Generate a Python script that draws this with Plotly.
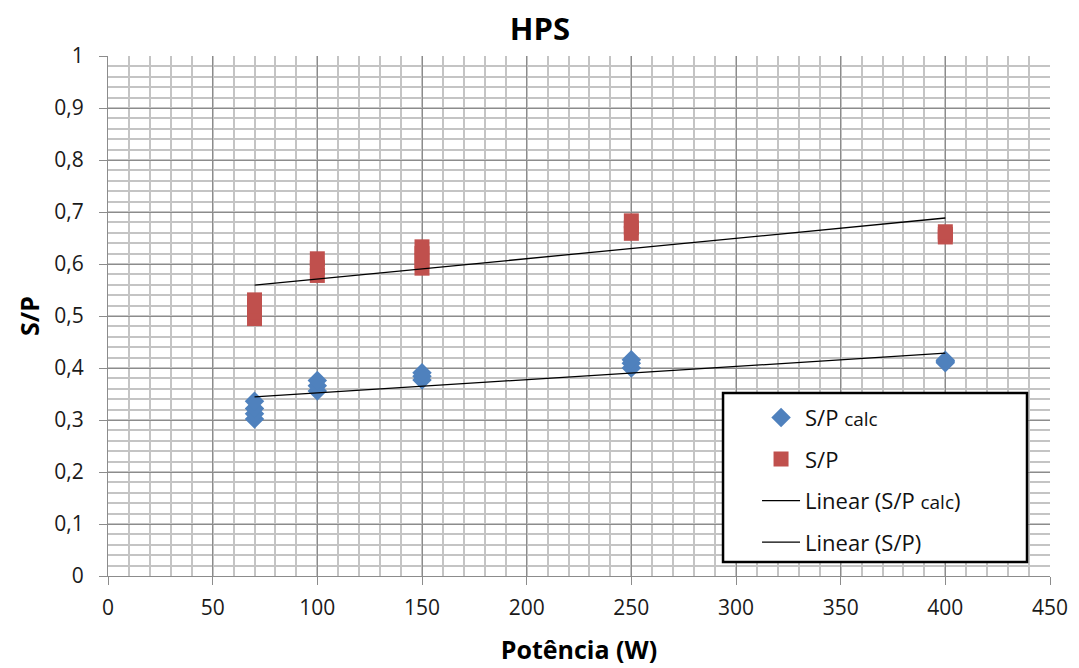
import numpy as np
import plotly.graph_objects as go

title = "HPS"
x_title = "Potência (W)"
y_title = "S/P"

# S/P calc (blue diamonds)
calc_x = [70, 70, 70, 70, 100, 100, 100, 150, 150, 150, 250, 250, 250, 400, 400, 400]
calc_y = [0.302, 0.312, 0.322, 0.336, 0.356, 0.366, 0.376, 0.377, 0.384, 0.391, 0.400, 0.409, 0.416, 0.410, 0.413, 0.415]

# S/P (red squares)
sp_x = [70, 70, 70, 70, 100, 100, 100, 150, 150, 150, 150, 250, 250, 250, 400, 400, 400]
sp_y = [0.495, 0.507, 0.520, 0.531, 0.578, 0.593, 0.610, 0.592, 0.606, 0.620, 0.633, 0.659, 0.670, 0.683, 0.652, 0.657, 0.662]

x_ticks = [0, 50, 100, 150, 200, 250, 300, 350, 400, 450]
y_ticks = [0, 0.1, 0.2, 0.3, 0.4, 0.5, 0.6, 0.7, 0.8, 0.9, 1]
y_ticktext = ["0", "0,1", "0,2", "0,3", "0,4", "0,5", "0,6", "0,7", "0,8", "0,9", "1"]

FONT = "Open Sans"

def trend(xs, ys):
    m, b = np.polyfit(xs, ys, 1)
    tx = np.array([min(xs), max(xs)], dtype=float)
    return tx, m * tx + b

fig = go.Figure()
fig.add_trace(go.Scatter(x=calc_x, y=calc_y, mode="markers", name="S/P <span style='font-size:19px'>calc</span>",
                         marker=dict(symbol="diamond", size=15, color="#4f81bd"), legendgroup="a"))
fig.add_trace(go.Scatter(x=sp_x, y=sp_y, mode="markers", name="S/P",
                         marker=dict(symbol="square", size=15, color="#c0504d"), legendgroup="b"))
tx, ty = trend(calc_x, calc_y)
fig.add_trace(go.Scatter(x=tx, y=ty, mode="lines", name="Linear (S/P <span style='font-size:19px'>calc</span>)",
                         line=dict(color="black", width=1.3), legendgroup="c"))
tx, ty = trend(sp_x, sp_y)
fig.add_trace(go.Scatter(x=tx, y=ty, mode="lines", name="Linear (S/P)",
                         line=dict(color="black", width=1.3), legendgroup="d"))

# legend frame drawn as a shape (plot area: x 108..1050, y 56..576 on the page)
fig.add_shape(type="rect", xref="paper", yref="paper",
              x0=0.6529, x1=0.9756, y0=0.027, y1=0.352,
              line=dict(color="black", width=2.5), fillcolor="white", layer="above")

fig.update_layout(
    width=1079, height=668,
    margin=dict(l=100, r=37, t=48, b=100),
    paper_bgcolor="white", plot_bgcolor="white",
    font=dict(family=FONT, size=20, color="#1a1a1a"),
    title=dict(text="<b>" + title + "</b>", x=0.493, xanchor="center", y=0.968, yanchor="middle",
               font=dict(size=31, color="black", family=FONT)),
    legend=dict(x=0.689, y=0.345, xanchor="left", yanchor="top",
                borderwidth=0, bgcolor="rgba(0,0,0,0)",
                font=dict(size=22, family=FONT, color="#111"),
                tracegroupgap=10, traceorder="grouped", itemwidth=38),
    showlegend=True,
)
fig.update_xaxes(range=[0, 450], tickvals=x_ticks, ticktext=[str(v) for v in x_ticks],
                 showgrid=True, gridcolor="#8c8c8c", gridwidth=1.2,
                 minor=dict(dtick=10, showgrid=True, gridcolor="#c4c4c4", gridwidth=1.6),
                 showline=True, linecolor="#8c8c8c", linewidth=1.2,
                 ticks="outside", ticklen=8, tickcolor="#8c8c8c", ticklabelstandoff=5,
                 zeroline=False, tickfont=dict(size=21, color="#1a1a1a"),
                 title=dict(text="<b>" + x_title + "</b>", font=dict(size=25, color="black"), standoff=21))
fig.update_yaxes(range=[0, 1], tickvals=y_ticks, ticktext=y_ticktext,
                 showgrid=True, gridcolor="#8c8c8c", gridwidth=1.2,
                 minor=dict(dtick=0.02, showgrid=True, gridcolor="#c4c4c4", gridwidth=1.6),
                 showline=True, linecolor="#8c8c8c", linewidth=1.2,
                 ticks="outside", ticklen=8, tickcolor="#8c8c8c", ticklabelstandoff=11,
                 zeroline=False, tickfont=dict(size=21, color="#1a1a1a"),
                 title=dict(text="<b>" + y_title + "</b>", font=dict(size=25, color="black"), standoff=7))

fig.write_html("out.html")
